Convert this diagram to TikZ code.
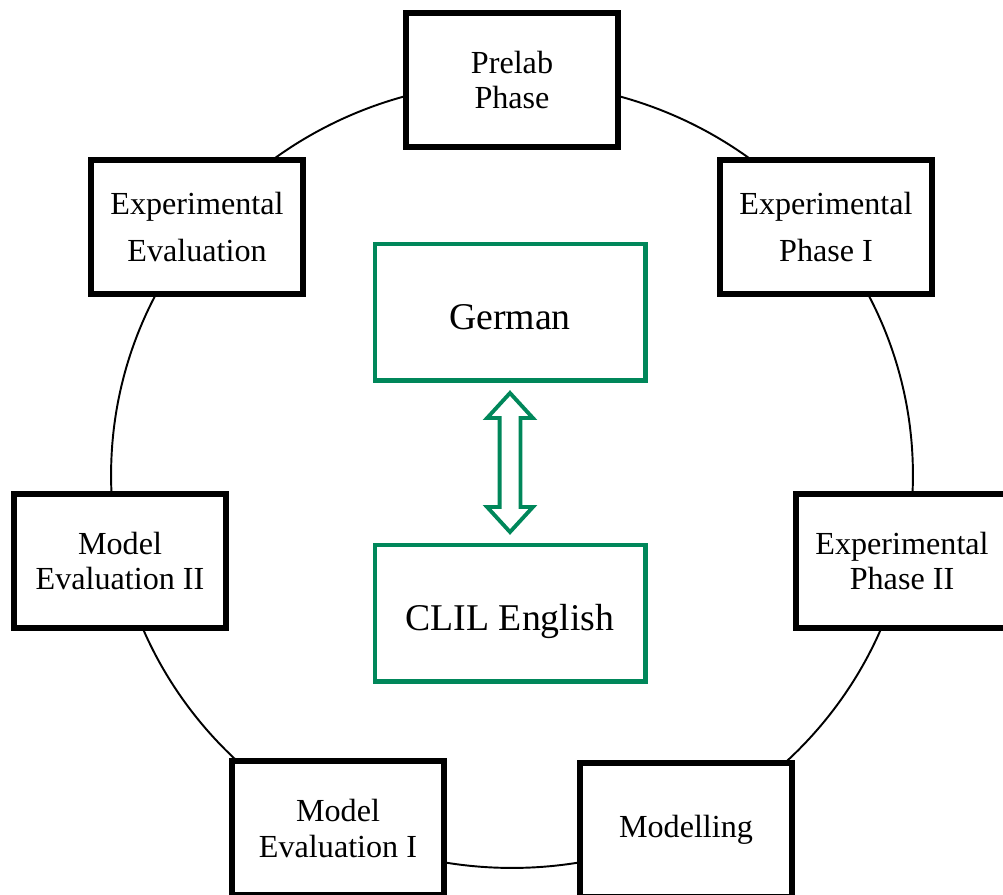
\documentclass[tikz,border=0pt]{standalone}
\usepackage{fontspec}
\setmainfont{Liberation Serif}
\usetikzlibrary{shapes.arrows,calc}
\definecolor{clilgreen}{RGB}{0,135,90}
\begin{document}
\begin{tikzpicture}[x=0.02cm, y=-0.02cm,
    phase/.style={draw, line width=3.4pt, fill=white, minimum width=4.24cm, minimum height=2.68cm,
        align=center, font=\fontsize{18.3}{19.5}\selectfont},
    lang/.style={draw=clilgreen, line width=2.3pt, fill=white, minimum width=5.42cm, minimum height=2.74cm,
        text height=0.68cm, text depth=0pt, font=\fontsize{21.5}{24}\selectfont}]
    \useasboundingbox (0,0) rectangle (1003,894);

    % cycle of phases
    \draw[line width=1.1pt] (512,475) ellipse [x radius=8.02cm, y radius=7.86cm];

    \node[phase] (prelab)   at (512,80)  {Prelab\\Phase};
    \node[phase] (expeval)  at (197,227) {Experimental\\[7pt]Evaluation};
    \node[phase] (expone)   at (826,227) {Experimental\\[7pt]Phase I};
    \node[phase] (modtwo)   at (120,561) {Model\\Evaluation II};
    \node[phase] (exptwo)   at (902,561) {Experimental\\Phase II};
    \node[phase] (modone)   at (338,828) {Model\\[1pt]Evaluation I};
    \node[phase] (modelling) at (686,830) {Modelling};

    % languages
    \node[lang] (german) at (510,312) {German};
    \node[lang] (clil)   at (510,613) {CLIL English};
    \node[double arrow, draw=clilgreen, line width=2.2pt, fill=white, rotate=90,
        minimum height=2.78cm, inner sep=0.17cm, double arrow head extend=0.25cm,
        double arrow tip angle=85] (swap) at ($(german.south)!0.5!(clil.north)$) {};
\end{tikzpicture}
\end{document}
